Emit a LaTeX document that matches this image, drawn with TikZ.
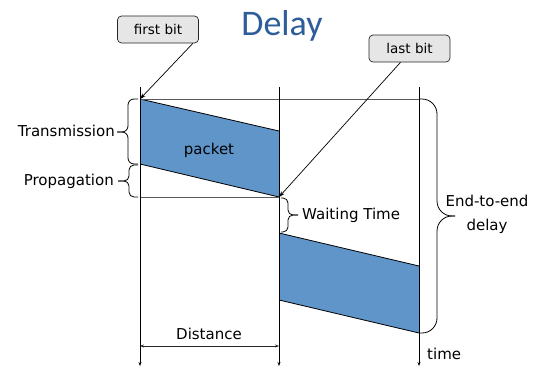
\documentclass[tikz,border=0pt]{standalone}
\usepackage{fontspec}
\setmainfont{DejaVu Sans}
\newfontfamily\titlefont{Carlito}
\usetikzlibrary{arrows.meta,calc}
\definecolor{pkblue}{HTML}{5F95C9}
\definecolor{titleblue}{HTML}{2E5E9A}
\definecolor{tagfill}{HTML}{E6E6E6}
\tikzset{
  timeline/.style={draw=black, line width=0.8pt, -{Stealth[length=4pt,width=3pt]}},
  guide/.style={draw=black!65, line width=0.7pt},
  pkfill/.style={fill=pkblue},
  pkedge/.style={draw=black, line width=0.8pt},
  curly/.style={draw=black, line width=0.8pt},
  tagbox/.style={draw=black!85, line width=0.7pt, fill=tagfill, rounded corners=4pt, minimum width=81pt,
    minimum height=27pt, inner sep=0pt, font=\fontsize{13.5}{16}\selectfont},
  pointer/.style={draw=black, line width=0.7pt, -{Stealth[length=6pt,width=4pt]}},
  lbl/.style={inner sep=0pt, font=\fontsize{15}{18}\selectfont},
}
\begin{document}
\begin{tikzpicture}[x=1pt,y=-1pt]
\useasboundingbox (0,0) rectangle (560,367);

% the three time axes: sender, router, receiver
\coordinate (sT) at (140,87);  \coordinate (sB) at (140,366);
\coordinate (rT) at (279,87);  \coordinate (rB) at (279,366);
\coordinate (dT) at (419,87);  \coordinate (dB) at (419,366);

% corners of the packet on both links
\coordinate (p1a) at (140,99);  \coordinate (p1b) at (279,131);
\coordinate (p1c) at (279,197); \coordinate (p1d) at (140,164);
\coordinate (p2a) at (279,233); \coordinate (p2b) at (419,266);
\coordinate (p2c) at (419,333); \coordinate (p2d) at (279,300);

% packets
\fill[pkfill] (p1a) -- (p1b) -- (p1c) -- (p1d) -- cycle;
\fill[pkfill] (p2a) -- (p2b) -- (p2c) -- (p2d) -- cycle;
\draw[pkedge] (p1a) -- (p1b);
\draw[pkedge] (p1d) -- (p1c);
\draw[pkedge] (p2a) -- (p2b);
\draw[pkedge] (p2d) -- (p2c);

% horizontal guides
\coordinate (gTop) at (419,99);
\coordinate (gMid) at (140,197);
\draw[guide] (p1a) -- (gTop);
\draw[guide] (gMid) -- (p1c);

% time axes
\draw[timeline] (sT) -- (sB);
\draw[timeline] (rT) -- (rB);
\draw[timeline] (dT) -- (dB);

% distance between the two ends of the link
\coordinate (dsL) at (140,346);
\coordinate (dsR) at (279,346);
\draw[draw=black!85, line width=0.7pt, {Stealth[length=4pt,width=3pt]}-{Stealth[length=4pt,width=3pt]}] (dsL) -- (dsR);
\node[lbl] (dist) at (209,334) {Distance};
\node[lbl, anchor=west] (time) at (427,354) {time};
\node[lbl] (pk) at (209,150) {packet};

% braces
\draw[curly, rounded corners=6pt] (138,99) -- (128,99) -- (128,132) -- (117,132);
\draw[curly, rounded corners=6pt] (117,132) -- (128,132) -- (128,164) -- (138,164);
\node[lbl, anchor=east] (tx) at (115,131) {Transmission};

\draw[curly, rounded corners=5pt] (138,165) -- (129,165) -- (129,181) -- (118,181);
\draw[curly, rounded corners=5pt] (118,181) -- (129,181) -- (129,197) -- (138,197);
\node[lbl, anchor=east] (prop) at (114,181) {Propagation};

\draw[curly, rounded corners=5pt] (281,198) -- (288,198) -- (288,215) -- (298,215);
\draw[curly, rounded corners=5pt] (298,215) -- (288,215) -- (288,232) -- (281,232);
\node[lbl, anchor=west] (wait) at (302,215) {Waiting Time};

\draw[curly, rounded corners=15pt] (420,99) -- (437,99) -- (437,216) -- (455,216);
\draw[curly, rounded corners=15pt] (455,216) -- (437,216) -- (437,333) -- (420,333);
\node[lbl, align=center, font=\fontsize{15}{24}\selectfont] (e2e) at (487,214) {End-to-end\\delay};

% title
\node[inner sep=0pt, text=titleblue, font=\titlefont\fontsize{36}{40}\selectfont] (title) at (282,26) {Delay};

% callouts
\node[tagbox] (first) at (158,29.5) {first bit};
\node[tagbox] (last) at (409.5,48.5) {last bit};
\draw[pointer] ([xshift=-6pt]first.south east) -- (p1a);
\draw[pointer] ([xshift=-9pt]last.south) -- (p1c);
\end{tikzpicture}
\end{document}
